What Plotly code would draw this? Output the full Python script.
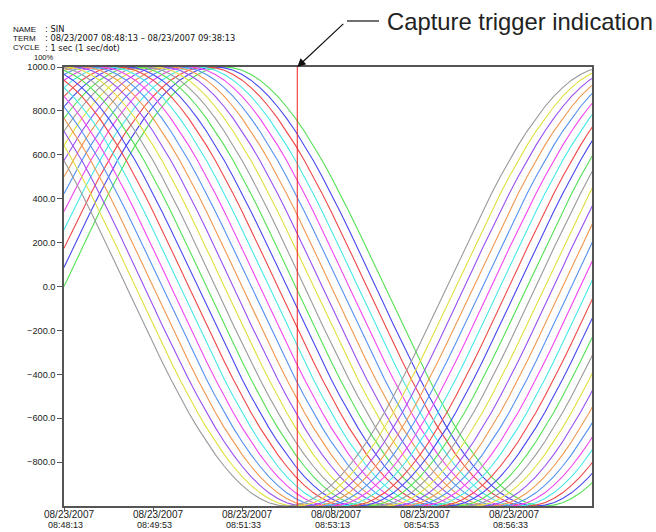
import plotly.graph_objects as go

# One full cycle of the SIN test signal, sampled every 10 s (value per sample)
SIN_CYCLE = [
    0, 87, 174, 259, 342, 423, 500, 574, 643, 707, 766, 819,
    866, 906, 940, 966, 985, 996, 1000, 996, 985, 966, 940, 906,
    866, 819, 766, 707, 643, 574, 500, 423, 342, 259, 174, 87,
    0, -87, -174, -259, -342, -423, -500, -574, -643, -707, -766, -819,
    -866, -906, -940, -966, -985, -996, -1000, -996, -985, -966, -940, -906,
    -866, -819, -766, -707, -643, -574, -500, -423, -342, -259, -174, -87,
]
SAMPLE_TIMES = [0, 10, 20, 30, 40, 50, 60, 70, 80, 90, 100, 110, 120, 130, 140,
                150, 160, 170, 180, 190, 200, 210, 220, 230, 240, 250, 260, 270,
                280, 290, 300, 310, 320, 330, 340, 350, 360, 370, 380, 390, 400,
                410, 420, 430, 440, 450, 460, 470, 480, 490, 500, 510, 520, 530,
                540, 550, 560, 570, 580, 590, 600]
# channel k leads the first channel by k samples (10 s each)
CHANNEL_LEAD_STEPS = list(range(30))
CHANNEL_COLORS = ["#55e055", "#4848f0", "#f04848", "#48e8e8", "#f048f0",
                  "#5592f0", "#f09850", "#9a50f0", "#e0e040", "#9a9a9a"]

TICK_SECONDS = [0, 100, 200, 300, 400, 500]
TICK_DATES = ["08/23/2007", "08/23/2007", "08/23/2007",
              "08/08/2007", "08/23/2007", "08/23/2007"]
TICK_TIMES = ["08:48:13", "08:49:53", "08:51:33",
              "08:53:13", "08:54:53", "08:56:33"]
Y_TICKS = [1000, 800, 600, 400, 200, 0, -200, -400, -600, -800]
Y_TICK_LABELS = ["1000.0", "800.0", "600.0", "400.0", "200.0", "0.0",
                 "−200.0", "−400.0", "−600.0", "−800.0"]
TRIGGER_S = 262
X_END_S = 593

W, H = 656, 532
ML, MR, MT, MB = 64, 64, 67, 26
PW, PH = W - ML - MR, H - MT - MB
FONT = "Liberation Sans, Arial"
WIDE_FONT = "DejaVu Sans, Verdana"


def px_x(px):
    return (px - ML) / PW


def px_y(py):
    return (H - MB - py) / PH


fig = go.Figure()
n = len(SIN_CYCLE)
for k in CHANNEL_LEAD_STEPS:
    vals = [SIN_CYCLE[(i + k) % n] for i in range(len(SAMPLE_TIMES))]
    fig.add_trace(go.Scatter(
        x=SAMPLE_TIMES, y=vals, mode="lines",
        line=dict(color=CHANNEL_COLORS[k % len(CHANNEL_COLORS)], width=1.1),
        showlegend=False, hoverinfo="skip"))

# capture trigger marker
fig.add_shape(type="line", xref="x", yref="y", x0=TRIGGER_S, x1=TRIGGER_S,
              y0=-1000, y1=1000, line=dict(color="#ee2020", width=1))

# leader: horizontal run then arrow down to the trigger marker
fig.add_shape(type="line", xref="paper", yref="paper",
              x0=px_x(347), x1=px_x(379), y0=px_y(21), y1=px_y(21),
              line=dict(color="#111111", width=1.2))
fig.add_annotation(x=TRIGGER_S, y=1000, xref="x", yref="y", text=" ",
                   showarrow=True, arrowhead=2, arrowsize=1.4, arrowwidth=1.2,
                   arrowcolor="#111111", ax=49, ay=-46, standoff=0)
fig.add_annotation(x=px_x(385), y=px_y(21), xref="paper", yref="paper",
                   xanchor="left", yanchor="middle", showarrow=False,
                   text="Capture trigger indication",
                   font=dict(family=FONT, size=23.8, color="#222222"))

# header block
lab_font = dict(family=FONT, size=8, color="#111111")
val_font = dict(family=WIDE_FONT, size=8.3, color="#111111")
for label, value, py in [("NAME", ": SIN", 29),
                         ("TERM", ": 08/23/2007 08:48:13 – 08/23/2007 09:38:13", 38.5),
                         ("CYCLE", ": 1 sec (1 sec/dot)", 48)]:
    fig.add_annotation(x=px_x(12), y=px_y(py), xref="paper", yref="paper",
                       xanchor="left", yanchor="middle", showarrow=False,
                       borderpad=0, text=label, font=lab_font)
    fig.add_annotation(x=px_x(44), y=px_y(py), xref="paper", yref="paper",
                       xanchor="left", yanchor="middle", showarrow=False,
                       borderpad=0, text=value, font=val_font)
fig.add_annotation(x=px_x(33), y=px_y(57.5), xref="paper", yref="paper",
                   xanchor="left", yanchor="middle", showarrow=False,
                   borderpad=0, text="100%",
                   font=dict(family=FONT, size=7.5, color="#111111"))

# two-line time-axis labels under each tick
for t, d, hm in zip(TICK_SECONDS, TICK_DATES, TICK_TIMES):
    fig.add_annotation(x=t, y=px_y(514.5), xref="x", yref="paper", xshift=5,
                       xanchor="center", yanchor="middle", showarrow=False,
                       borderpad=0, text=d,
                       font=dict(family=FONT, size=10, color="#222222"))
    fig.add_annotation(x=t, y=px_y(524.5), xref="x", yref="paper", xshift=1,
                       xanchor="center", yanchor="middle", showarrow=False,
                       borderpad=0, text=hm,
                       font=dict(family=FONT, size=9, color="#222222"))

axis_common = dict(showgrid=False, zeroline=False, showline=True, mirror=True,
                   linecolor="#555555", linewidth=1.5, ticks="outside",
                   tickcolor="#555555", automargin=False,
                   tickfont=dict(family=FONT, size=9.2, color="#222222"))
fig.update_xaxes(range=[0, X_END_S], tickmode="array", tickvals=TICK_SECONDS,
                 showticklabels=False, ticklen=3, **axis_common)
fig.update_yaxes(range=[-1000, 1000], tickmode="array", tickvals=Y_TICKS,
                 ticktext=Y_TICK_LABELS, ticklen=5, **axis_common)

fig.update_layout(width=W, height=H, margin=dict(l=ML, r=MR, t=MT, b=MB),
                  plot_bgcolor="white", paper_bgcolor="white")

fig.write_html("out.html")
